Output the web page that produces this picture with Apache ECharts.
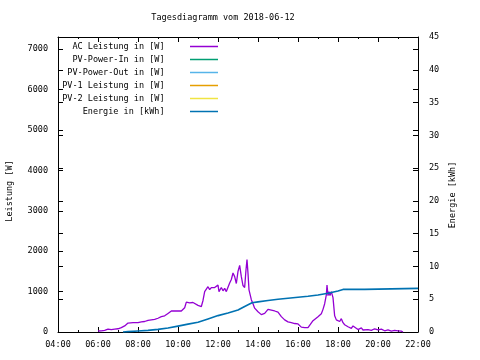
<!DOCTYPE html>
<html><head><meta charset="utf-8">
<script src="https://cdn.jsdelivr.net/npm/echarts@6/dist/echarts.min.js"></script>
<style>html,body{margin:0;padding:0;background:#fff}#c{width:480px;height:360px}</style>
</head><body><div id="c"></div>
<script>
const titleText = 'Tagesdiagramm vom 2018-06-12';
const leftAxisName = 'Leistung [W]';
const rightAxisName = 'Energie [kWh]';
const seriesNames = ['AC Leistung in [W]','PV-Power-In in [W]','PV-Power-Out in [W]','PV-1 Leistung in [W]','PV-2 Leistung in [W]','Energie in [kWh]'];
const seriesColors = ['#9400d3','#009e73','#56b4e9','#e69f00','#f0e442','#0072b2'];

const acTimes = ['06:00','06:10','06:15','06:20','06:30','06:40','06:45','06:50','07:00','07:10','07:15','07:20','07:30','07:35','07:45','07:50','08:00','08:10','08:15','08:20','08:30','08:40','08:45','08:50','09:00','09:10','09:20','09:30','09:40','09:50','10:00','10:10','10:15','10:20','10:25','10:30','10:35','10:40','10:45','10:50','11:00','11:05','11:10','11:15','11:20','11:25','11:30','11:35','11:40','11:45','11:50','12:00','12:03','12:10','12:15','12:20','12:25','12:30','12:35','12:40','12:45','12:50','12:55','13:00','13:05','13:10','13:15','13:20','13:24','13:27','13:30','13:33','13:36','13:40','13:45','13:50','13:55','14:00','14:10','14:15','14:20','14:30','14:40','14:50','15:00','15:10','15:20','15:30','15:40','15:50','16:00','16:10','16:20','16:30','16:35','16:45','17:00','17:10','17:15','17:20','17:25','17:27','17:30','17:33','17:36','17:40','17:45','17:50','17:55','18:00','18:05','18:10','18:15','18:20','18:25','18:30','18:40','18:45','18:50','19:00','19:10','19:15','19:20','19:30','19:40','19:50','20:00','20:10','20:20','20:30','20:40','20:50','21:00','21:10','21:15'];
const acWatts = [25,30,60,40,70,60,90,70,80,110,100,150,220,200,230,210,230,250,270,260,290,300,320,310,340,380,400,460,520,520,520,520,540,600,740,750,720,750,730,700,660,620,630,780,1000,1060,1120,1050,1100,1130,1100,1160,1000,1100,1020,1080,1000,1020,1210,1300,1460,1370,1200,1500,1650,1370,1150,1100,1540,1790,1450,1040,1000,800,700,590,550,500,430,420,460,560,540,520,490,380,300,250,230,210,200,120,110,110,140,280,380,450,560,700,920,1160,900,1000,900,1000,850,400,300,330,260,330,230,180,220,130,90,150,110,60,100,50,90,60,40,80,50,70,30,50,20,40,30,20,0];

const energyTimes = ['07:15','07:30','08:00','08:30','09:00','09:30','10:00','10:30','11:00','11:30','12:00','12:30','13:00','13:20','13:42','14:00','14:30','15:00','15:30','16:00','16:30','17:00','17:30','18:00','18:15','19:20','19:25','22:00'];
const energyKWh = [0,0.05,0.15,0.25,0.4,0.6,0.9,1.2,1.5,2.0,2.5,2.9,3.35,3.9,4.47,4.6,4.8,5.0,5.15,5.3,5.45,5.64,5.9,6.25,6.5,6.5,6.66,6.66];

const toMin = s => { const p = s.split(':'); return (+p[0]) * 60 + (+p[1]); };
const pad = n => (n < 10 ? '0' : '') + n;
const F = '"DejaVu Sans Mono", "Liberation Mono", monospace';
const FS = 8.5;

const acData = acTimes.map((t, i) => [toMin(t), acWatts[i]]);
const enData = energyTimes.map((t, i) => [toMin(t), energyKWh[i]]);

const chart = echarts.init(document.getElementById('c'), null, {renderer: 'canvas'});
const blk = {color: '#000', width: 1};
const series = seriesNames.map((n, i) => ({
  name: n, type: 'line', showSymbol: false, symbol: 'none', animation: false,
  yAxisIndex: i === 5 ? 1 : 0,
  color: seriesColors[i],
  lineStyle: {width: i === 5 ? 1.6 : 1.3, color: seriesColors[i]},
  data: i === 0 ? acData : (i === 5 ? enData : [])
}));

chart.setOption({
  animation: false,
  backgroundColor: '#fff',
  grid: {left: 58, right: 62, top: 37, bottom: 28, containLabel: false},
  xAxis: [{
    type: 'value', min: 240, max: 1320, interval: 120,
    axisLine: {show: true, lineStyle: blk},
    axisTick: {show: true, inside: true, length: 5, lineStyle: blk},
    minorTick: {show: true, splitNumber: 2, length: 2, lineStyle: blk},
    splitLine: {show: false},
    axisLabel: {color: '#000', fontFamily: F, fontSize: FS, margin: 8, formatter: v => pad(v / 60) + ':00'}
  }, {
    type: 'value', position: 'top', min: 240, max: 1320, interval: 120,
    axisLine: {show: true, onZero: false, lineStyle: blk},
    axisTick: {show: true, inside: true, length: 5, lineStyle: blk},
    minorTick: {show: true, splitNumber: 2, length: 2, lineStyle: blk},
    splitLine: {show: false}, axisLabel: {show: false}
  }],
  yAxis: [{
    type: 'value', position: 'left', min: 0, max: 7300, interval: 1000,
    axisLine: {show: true, lineStyle: blk},
    axisTick: {show: true, inside: true, length: 5, lineStyle: blk},
    splitLine: {show: false},
    axisLabel: {color: '#000', fontFamily: F, fontSize: FS, margin: 10, showMaxLabel: false, formatter: v => String(v)}
  }, {
    type: 'value', position: 'right', min: 0, max: 45, interval: 5,
    axisLine: {show: true, lineStyle: blk},
    axisTick: {show: true, inside: true, length: 5, lineStyle: blk},
    splitLine: {show: false},
    axisLabel: {color: '#000', fontFamily: F, fontSize: FS, margin: 11, formatter: v => String(v)}
  }, {
    type: 'value', position: 'right', min: 0, max: 7300, interval: 1000,
    axisLine: {show: false},
    axisTick: {show: true, inside: true, length: 5, lineStyle: blk},
    splitLine: {show: false}, axisLabel: {show: false}
  }, {
    type: 'value', position: 'left', min: 0, max: 45, interval: 5,
    axisLine: {show: false},
    axisTick: {show: true, inside: true, length: 5, lineStyle: blk},
    splitLine: {show: false}, axisLabel: {show: false}
  }],
  legend: {
    orient: 'vertical', align: 'right', right: 262, top: 41, padding: 0,
    icon: 'rect', itemWidth: 28, itemHeight: 1.5, itemGap: 2,
    data: seriesNames,
    formatter: n => n + '    ',
    textStyle: {color: '#000', fontFamily: F, fontSize: FS, lineHeight: 11}
  },
  graphic: [
    {type: 'text', x: 223, y: 18, style: {text: titleText, fill: '#000', font: FS + 'px ' + F, align: 'center', verticalAlign: 'middle'}},
    {type: 'text', x: 10, y: 191, rotation: Math.PI / 2, style: {text: leftAxisName, fill: '#000', font: FS + 'px ' + F, align: 'center', verticalAlign: 'middle'}},
    {type: 'text', x: 453, y: 195, rotation: Math.PI / 2, style: {text: rightAxisName, fill: '#000', font: FS + 'px ' + F, align: 'center', verticalAlign: 'middle'}}
  ],
  series: series
});
</script></body></html>
